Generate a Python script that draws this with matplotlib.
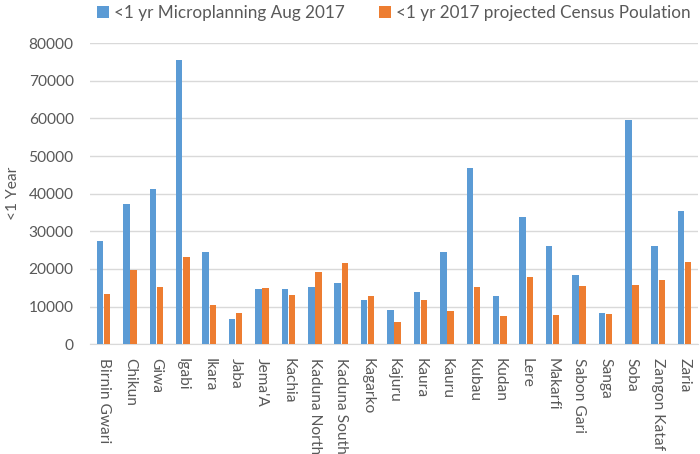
import matplotlib as mpl

mpl.use("Agg")
import matplotlib.pyplot as plt
import numpy as np

districts = [
    "Birnin Gwari", "Chikun", "Giwa", "Igabi", "Ikara", "Jaba", "Jema'A",
    "Kachia", "Kaduna North", "Kaduna South", "Kagarko", "Kajuru", "Kaura",
    "Kauru", "Kubau", "Kudan", "Lere", "Makarfi", "Sabon Gari", "Sanga",
    "Soba", "Zangon Kataf", "Zaria",
]
microplanning = [
    27300, 37300, 41200, 75500, 24600, 6700, 14700, 14700, 15100, 16200,
    11800, 9200, 13800, 24400, 46900, 12900, 33900, 26000, 18300, 8400,
    59500, 26000, 35400,
]
census = [
    13400, 19800, 15300, 23100, 10300, 8200, 14900, 13000, 19200, 21500,
    12900, 5800, 11800, 8900, 15100, 7400, 17800, 7800, 15400, 7900,
    15600, 17000, 21900,
]
yticks = [0, 10000, 20000, 30000, 40000, 50000, 60000, 70000, 80000]

BLUE = "#5B9BD5"
ORANGE = "#ED7D31"
GRID = "#D9D9D9"
TEXT = "#595959"

plt.rcParams["font.family"] = ["Lato", "DejaVu Sans"]

fig = plt.figure(figsize=(7.0, 4.54), dpi=100)
ax = fig.add_axes([0.129, 0.242, 0.868, 0.663])

x = np.arange(len(districts))
w = 0.245
ax.bar(x - 0.135, microplanning, w, color=BLUE, label="<1 yr Microplanning Aug 2017", zorder=3)
ax.bar(x + 0.135, census, w, color=ORANGE, label="<1 yr 2017 projected Census Poulation", zorder=3)

ax.set_xlim(-0.5, len(districts) - 0.5)
ax.set_ylim(0, 80000)
ax.set_yticks(yticks)
ax.set_yticklabels([str(v) for v in yticks], fontsize=11.2, color=TEXT)
ax.set_xticks(x)
ax.set_xticklabels(districts, rotation=270, fontsize=11.2, color=TEXT, va="top", ha="center")
ax.tick_params(axis="y", length=0, pad=12)
ax.tick_params(axis="x", length=0, pad=10)
ax.grid(axis="y", color=GRID, lw=1.0, zorder=0)
for s in ["top", "right", "left"]:
    ax.spines[s].set_visible(False)
ax.spines["bottom"].set_color(GRID)
ax.set_ylabel("<1 Year", fontsize=11.2, color=TEXT, va="center")
ax.yaxis.set_label_coords(-0.128, 0.5)

fig.legend(loc="center", bbox_to_anchor=(0.563, 0.972), ncol=2, frameon=False,
           fontsize=12.3, labelcolor=TEXT, handlelength=0.7, handleheight=0.7,
           handletextpad=0.3, columnspacing=2.0)

fig.savefig("out.png", dpi=100)
